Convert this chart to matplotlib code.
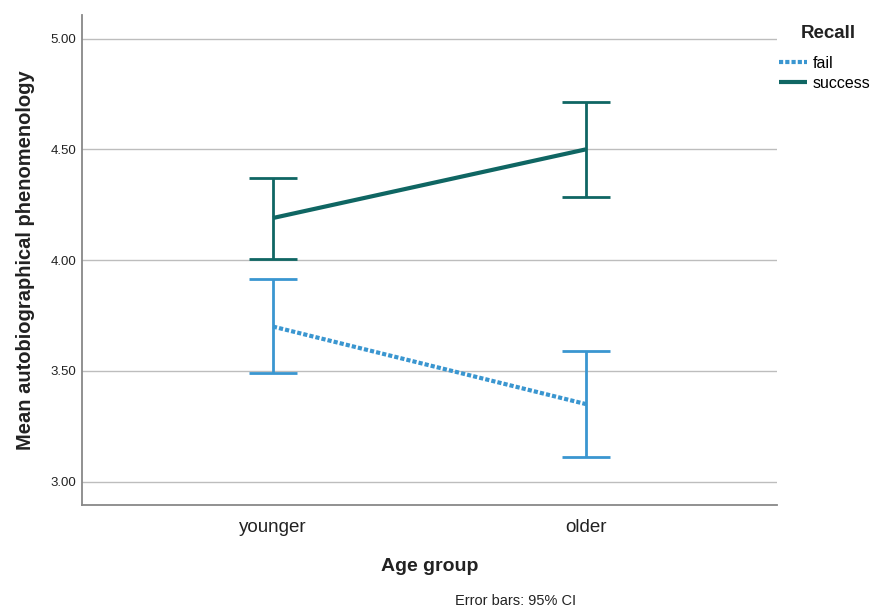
import matplotlib
matplotlib.use("Agg")
import matplotlib.pyplot as plt
import numpy as np

plt.rcParams['font.family'] = ['Liberation Sans', 'DejaVu Sans']

groups = ["younger", "older"]
fail_mean = [3.70, 3.35]
fail_lo = [3.49, 3.11]
fail_hi = [3.915, 3.59]
success_mean = [4.19, 4.50]
success_lo = [4.005, 4.285]
success_hi = [4.37, 4.715]

fail_color = "#3a96d0"
success_color = "#0f6663"

fig = plt.figure(figsize=(8.72, 6.12), dpi=100)
ax = fig.add_axes([0.094, 0.175, 0.797, 0.80])

x = np.arange(len(groups))

def draw(mean, lo, hi, color, ls, label):
    mean = np.array(mean)
    err = [mean - np.array(lo), np.array(hi) - mean]
    ax.errorbar(x, mean, yerr=err, fmt="none", ecolor=color, elinewidth=2,
                capsize=17, capthick=2, zorder=3)
    ax.plot(x, mean, color=color, linestyle=ls, linewidth=3, label=label,
            solid_capstyle="butt", dash_capstyle="butt", zorder=4)

draw(fail_mean, fail_lo, fail_hi, fail_color, (0, (1, 0.5)), "fail")
draw(success_mean, success_lo, success_hi, success_color, "-", "success")

ax.set_xlim(-0.61, 1.61)
ax.set_ylim(2.895, 5.105)
ax.set_yticks([3.0, 3.5, 4.0, 4.5, 5.0])
ax.set_yticklabels(["3.00", "3.50", "4.00", "4.50", "5.00"], fontsize=9.5, color="#222222")
ax.set_xticks(x)
ax.set_xticklabels(groups, fontsize=13.5, color="#222222")
ax.tick_params(axis="both", length=0)
ax.tick_params(axis="x", pad=10)
ax.tick_params(axis="y", pad=4)
ax.yaxis.grid(True, color="#bdbdbd", linewidth=1)
ax.set_axisbelow(True)
for s in ["top", "right"]:
    ax.spines[s].set_visible(False)
for s in ["left", "bottom"]:
    ax.spines[s].set_color("#888888")
    ax.spines[s].set_linewidth(1.3)

ax.set_xlabel("Age group", fontsize=14, fontweight="bold", color="#222222", labelpad=16)
ax.set_ylabel("Mean autobiographical phenomenology", fontsize=14.5, fontweight="bold",
              color="#222222", labelpad=11)

fig.text(828 / 872, 1 - 34 / 612, "Recall", ha="center", va="center", fontsize=13.5,
         fontweight="bold", color="#222222")
leg = fig.legend(loc="upper left", bbox_to_anchor=(779 / 872, 1 - 56 / 612), frameon=False,
                 fontsize=11.5, handlelength=1.75, handletextpad=0.35,
                 labelspacing=0.3, borderaxespad=0, borderpad=0)

fig.text(516 / 872, 0.012, "Error bars: 95% CI", ha="center", fontsize=10.5, color="#222222")

fig.savefig("out.png", dpi=100)
